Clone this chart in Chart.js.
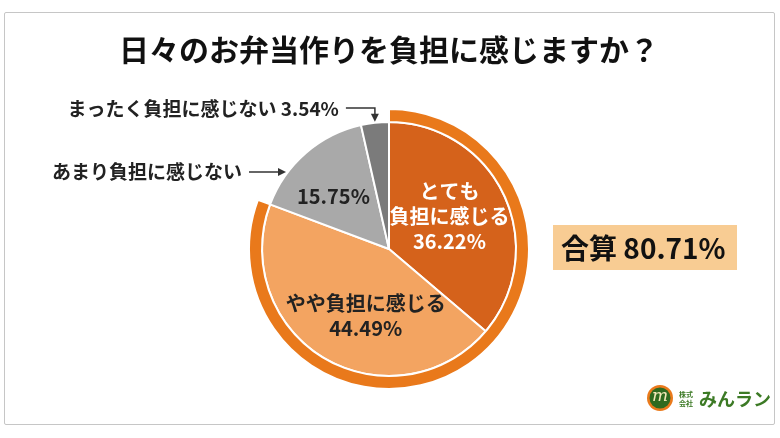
<!DOCTYPE html>
<html lang="ja">
<head>
<meta charset="utf-8">
<script src="https://cdn.jsdelivr.net/npm/chart.js@4.4.1/dist/chart.umd.min.js"></script>
<style>
  html, body { margin: 0; padding: 0; background: #fff; }
  #wrap { position: relative; width: 780px; height: 438px; }
  #frame { position: absolute; left: 4px; top: 12px; width: 769px; height: 411px; border: 1px solid #c6c6c6; border-radius: 2px; }
  canvas { position: absolute; left: 0; top: 0; }
</style>
</head>
<body>
<div id="wrap"><div id="frame"></div><canvas id="c" width="780" height="438"></canvas></div>
<script>
const FONT = "'Noto Sans CJK JP', 'Noto Sans', sans-serif";

// data
const titleText = "日々のお弁当作りを負担に感じますか？";
const categories = ["とても負担に感じる", "やや負担に感じる", "あまり負担に感じない", "まったく負担に感じない"];
const shares = [36.22, 44.49, 15.75, 3.54];
const sliceColors = ["#d5621b", "#f3a461", "#a9a9a9", "#7b7b7b"];
const totalName = "合算";
const ringShares = [shares[0] + shares[1], shares[2] + shares[3]];

const pct = v => v.toFixed(2) + "%";

// text inside the slices (null = drawn outside with an arrow)
const insideText = [
  { lines: ["とても", "負担に感じる", pct(shares[0])], color: "#fff", r: 0.55, dx: -3, dy: -3 },
  { lines: ["やや負担に感じる", pct(shares[1])], color: "#222", r: 0.61, dx: 16, dy: 0 },
  { lines: [pct(shares[2])], color: "#222", r: 0.57, dx: -8, dy: 2 },
  null
];

function arrowHead(ctx, x, y, dir) {
  ctx.beginPath();
  if (dir === "down") {
    ctx.moveTo(x, y); ctx.lineTo(x - 4, y - 8); ctx.lineTo(x + 4, y - 8);
  } else {
    ctx.moveTo(x, y); ctx.lineTo(x - 8, y - 4); ctx.lineTo(x - 8, y + 4);
  }
  ctx.closePath();
  ctx.fill();
}

const labelPlugin = {
  id: "pieLabels",
  afterDatasetsDraw(chart) {
    const ctx = chart.ctx;
    const arcs = chart.getDatasetMeta(1).data;
    ctx.save();
    ctx.textAlign = "center";
    ctx.textBaseline = "middle";
    arcs.forEach((arc, i) => {
      const t = insideText[i];
      if (!t) return;
      const p = arc.getProps(["x", "y", "startAngle", "endAngle", "outerRadius"], true);
      const mid = (p.startAngle + p.endAngle) / 2;
      const cx = p.x + Math.cos(mid) * p.outerRadius * t.r + t.dx;
      const cy = p.y + Math.sin(mid) * p.outerRadius * t.r + t.dy;
      ctx.fillStyle = t.color;
      ctx.font = "bold 20px " + FONT;
      const lh = 25;
      t.lines.forEach((s, k) => {
        ctx.fillText(s, cx, cy + (k - (t.lines.length - 1) / 2) * lh);
      });
    });

    // outside labels with arrows
    const a3 = arcs[3].getProps(["x", "y", "startAngle", "endAngle", "outerRadius"], true);
    const a2 = arcs[2].getProps(["x", "y", "startAngle", "endAngle", "outerRadius"], true);
    ctx.strokeStyle = "#333";
    ctx.fillStyle = "#333";
    ctx.lineWidth = 1.5;

    const m3 = (a3.startAngle + a3.endAngle) / 2;
    const tipX = a3.x + Math.cos(m3) * a3.outerRadius;
    const tipY = a3.y + Math.sin(m3) * a3.outerRadius - 1;
    const yTop = a3.y - 141;
    ctx.beginPath();
    ctx.moveTo(tipX - 29, yTop); ctx.lineTo(tipX, yTop); ctx.lineTo(tipX, tipY - 6);
    ctx.stroke();
    arrowHead(ctx, tipX, tipY, "down");

    const y2 = a2.y - 77;
    const edgeX = a2.x - Math.sqrt(a2.outerRadius * a2.outerRadius - 77 * 77) - 2;
    ctx.beginPath();
    ctx.moveTo(edgeX - 37, y2); ctx.lineTo(edgeX - 6, y2);
    ctx.stroke();
    arrowHead(ctx, edgeX, y2, "right");

    ctx.fillStyle = "#222";
    ctx.font = "bold 19px " + FONT;
    ctx.textAlign = "right";
    ctx.fillText(categories[3] + " " + pct(shares[3]), tipX - 36, yTop + 1);
    ctx.fillText(categories[2], edgeX - 44, y2);

    // total box
    ctx.fillStyle = "#f8cc93";
    ctx.fillRect(553, 225, 184, 45);
    ctx.fillStyle = "#111";
    ctx.textAlign = "left";
    ctx.font = "bold 28px " + FONT;
    ctx.fillText(totalName + " " + pct(ringShares[0]), 561, 248);

    // logo
    ctx.fillStyle = "#ea7a1c";
    ctx.beginPath(); ctx.arc(660, 398, 13, 0, Math.PI * 2); ctx.fill();
    ctx.fillStyle = "#2f6a1f";
    ctx.beginPath(); ctx.arc(660, 398, 10.5, 0, Math.PI * 2); ctx.fill();
    ctx.fillStyle = "#f4e8b8";
    ctx.textAlign = "center";
    ctx.font = "italic 17px 'DejaVu Serif', serif";
    ctx.fillText("m", 660, 397);
    ctx.fillStyle = "#3c7a25";
    ctx.font = "bold 7px " + FONT;
    ctx.fillText("株式", 686, 394);
    ctx.fillText("会社", 686, 403);
    ctx.textAlign = "left";
    ctx.font = "bold 18px " + FONT;
    ctx.fillText("みんラン", 699, 399);
    ctx.restore();
  }
};

new Chart(document.getElementById("c"), {
  type: "pie",
  data: {
    labels: categories,
    datasets: [
      {
        data: ringShares,
        backgroundColor: ["#e9791b", "rgba(0,0,0,0)"],
        borderColor: "#fff",
        borderWidth: [2, 0],
        weight: 13
      },
      {
        data: shares,
        backgroundColor: sliceColors,
        borderColor: "#fff",
        borderWidth: 2,
        weight: 127
      }
    ]
  },
  options: {
    responsive: false,
    animation: false,
    layout: { padding: { top: 32, bottom: 48, left: 0, right: 2 } },
    plugins: {
      legend: { display: false },
      tooltip: { enabled: false },
      title: {
        display: true,
        text: titleText,
        color: "#111",
        font: { family: FONT, size: 30, weight: "bold", lineHeight: 1.2 },
        padding: { top: 0, bottom: 40 }
      }
    }
  },
  plugins: [labelPlugin]
});
</script>
</body>
</html>
